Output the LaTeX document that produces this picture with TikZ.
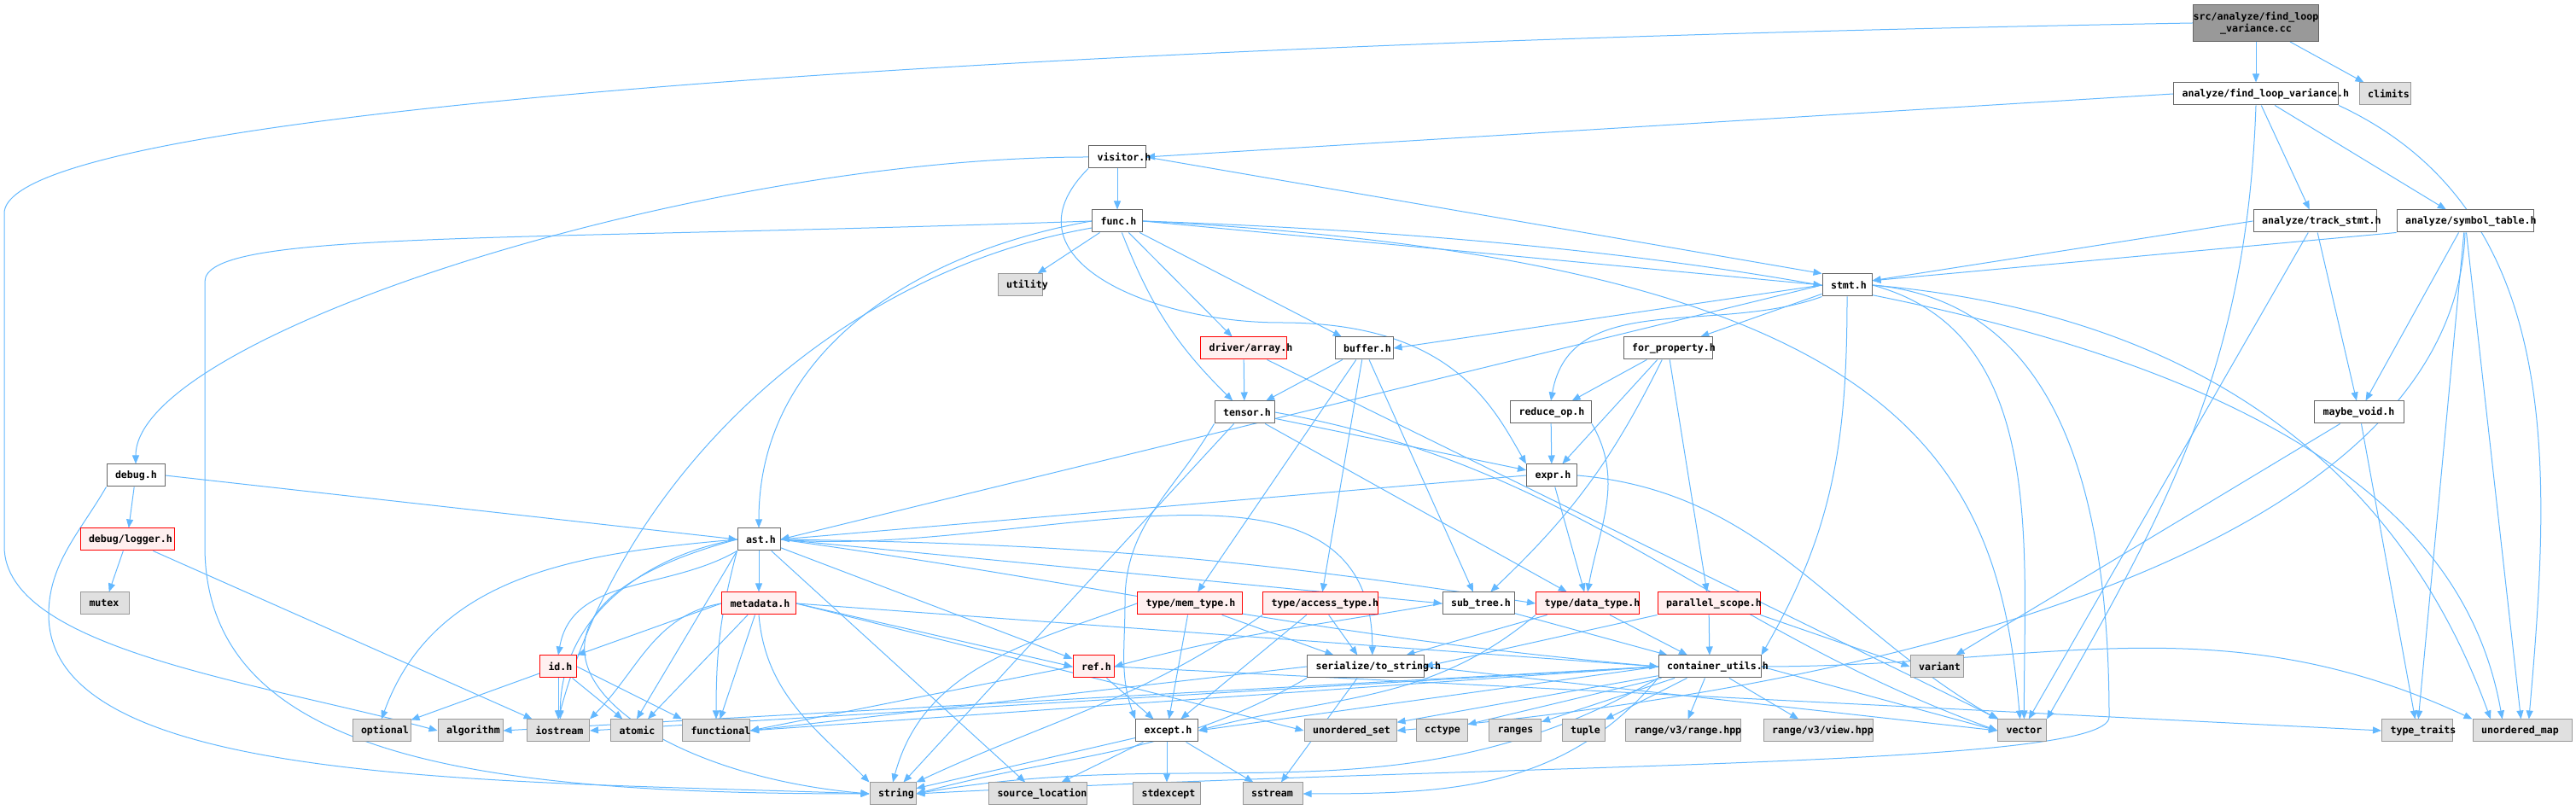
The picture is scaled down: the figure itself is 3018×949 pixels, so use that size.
\documentclass[tikz,border=0pt]{standalone}
\usepackage{fontspec}
\setmonofont{DejaVu Sans Mono}
\usetikzlibrary{arrows.meta}
\definecolor{incblue}{HTML}{63B8FF}
\pgfdeclarelayer{bg}
\pgfsetlayers{bg,main}
% text trai, co the tran ra ngoai hop nhu ban goc
\newcommand\fn[2]{\makebox[\dimexpr(#1pt-20pt)/4\relax][l]{#2}}
\tikzset{
  file/.style={draw=black!60,fill=white,line width=0.25pt,minimum height=6.5pt,inner xsep=2.5pt,inner ysep=0pt,
    font=\ttfamily\bfseries\fontsize{2.9pt}{3.4pt}\selectfont},
  sys/.style={file,draw=black!40,fill=black!12},
  trunc/.style={file,draw=red,fill=red!6},
  rootfile/.style={file,fill=black!40,minimum height=10.75pt,minimum width=36.75pt,align=center},
  inc/.style={draw=incblue,line width=0.25pt,-{Triangle[length=2.5pt,width=2pt]}},
}
\begin{document}
\begin{tikzpicture}[x=0.25pt,y=0.25pt]
\useasboundingbox (0,0) rectangle (3018,-949);
% cac tep
\node[rootfile] (root) at (2643,-27) {\makebox[0pt]{src/analyze/find\_loop}\\\makebox[0pt]{\_variance.cc}};
\node[file] (flvh) at (2643,-110) {\fn{193}{analyze/find\_loop\_variance.h}};
\node[sys] (climits) at (2794,-110) {\fn{60}{climits}};
\node[file] (visitor) at (1309,-184) {\fn{67}{visitor.h}};
\node[file] (func) at (1309,-259) {\fn{59}{func.h}};
\node[file] (track) at (2712,-259) {\fn{144}{analyze/track\_stmt.h}};
\node[file] (symtab) at (2888,-259) {\fn{160}{analyze/symbol\_table.h}};
\node[sys] (utility) at (1195,-334) {\fn{52}{utility}};
\node[file] (stmt) at (2164,-334) {\fn{58}{stmt.h}};
\node[trunc] (array) at (1457,-408) {\fn{101}{driver/array.h}};
\node[file] (buffer) at (1598,-408) {\fn{68}{buffer.h}};
\node[file] (forprop) at (1954,-408) {\fn{104}{for\_property.h}};
\node[file] (tensor) at (1458,-483) {\fn{70}{tensor.h}};
\node[file] (reduceop) at (1817,-483) {\fn{95}{reduce\_op.h}};
\node[file] (maybevoid) at (2764,-483) {\fn{105}{maybe\_void.h}};
\node[file] (debug) at (159,-557) {\fn{68}{debug.h}};
\node[file] (expr) at (1818,-557) {\fn{59}{expr.h}};
\node[trunc] (logger) at (149,-632) {\fn{110}{debug/logger.h}};
\node[file] (ast) at (889,-632) {\fn{50}{ast.h}};
\node[sys] (mutex) at (123,-707) {\fn{57}{mutex}};
\node[trunc] (metadata) at (889,-707) {\fn{87}{metadata.h}};
\node[trunc] (memtype) at (1394,-707) {\fn{123}{type/mem\_type.h}};
\node[trunc] (accesstype) at (1547,-707) {\fn{135}{type/access\_type.h}};
\node[file] (subtree) at (1732,-707) {\fn{84}{sub\_tree.h}};
\node[trunc] (datatype) at (1860,-707) {\fn{121}{type/data\_type.h}};
\node[trunc] (parscope) at (2002,-707) {\fn{120}{parallel\_scope.h}};
\node[trunc] (idh) at (654,-781) {\fn{43}{id.h}};
\node[trunc] (refh) at (1281,-781) {\fn{48}{ref.h}};
\node[file] (tostring) at (1600,-781) {\fn{137}{serialize/to\_string.h}};
\node[file] (container) at (2003,-781) {\fn{120}{container\_utils.h}};
\node[sys] (variant) at (2269,-781) {\fn{62}{variant}};
\node[sys] (optional) at (447,-856) {\fn{68}{optional}};
\node[sys] (algorithm) at (551,-856) {\fn{76}{algorithm}};
\node[sys] (iostream) at (654,-856) {\fn{73}{iostream}};
\node[sys] (atomic) at (746,-856) {\fn{61}{atomic}};
\node[sys] (functional) at (839,-856) {\fn{79}{functional}};
\node[file] (except) at (1367,-856) {\fn{73}{except.h}};
\node[sys] (unordset) at (1582,-856) {\fn{108}{unordered\_set}};
\node[sys] (cctype) at (1689,-856) {\fn{60}{cctype}};
\node[sys] (ranges) at (1775,-856) {\fn{61}{ranges}};
\node[sys] (tuple) at (1855,-856) {\fn{50}{tuple}};
\node[sys] (rangehpp) at (1972,-856) {\fn{135}{range/v3/range.hpp}};
\node[sys] (viewhpp) at (2130,-856) {\fn{128}{range/v3/view.hpp}};
\node[sys] (vector) at (2369,-856) {\fn{57}{vector}};
\node[sys] (typetraits) at (2832,-856) {\fn{83}{type\_traits}};
\node[sys] (unordmap) at (2955,-856) {\fn{116}{unordered\_map}};
\node[sys] (string) at (1046,-930) {\fn{54}{string}};
\node[sys] (srcloc) at (1216,-930) {\fn{115}{source\_location}};
\node[sys] (stdexcept) at (1367,-930) {\fn{79}{stdexcept}};
\node[sys] (sstream) at (1491,-930) {\fn{70}{sstream}};
% diem uon cua cac canh dai
\coordinate (la1) at (5,-250);
\coordinate (la2) at (5,-640);
\coordinate (lf1) at (240,-330);
\coordinate (lf2) at (240,-640);
\coordinate (ld1) at (57,-720);
\coordinate (vx1) at (1500,-378);
\coordinate (ls1) at (2471,-840);
\coordinate (tw1) at (1318,-705);
\begin{pgfonlayer}{bg}
\draw[inc] (root) -- (flvh);
\draw[inc] (root) -- (climits);
\draw[inc] (root.west) to[out=181,in=90,out distance=350pt,in distance=30pt] (la1) -- (la2)
  to[out=-90,in=165,out distance=30pt,in distance=55pt] (algorithm.west);
\draw[inc] (flvh.west) -- (visitor.east);
\draw[inc] (flvh) -- (track);
\draw[inc] (flvh) -- (symtab);
\draw[inc] (flvh.south) to[out=-92,in=60] (vector.north east);
\draw[inc] (flvh.south east) to[out=-25,in=85] (unordmap.60);
\draw[inc] (visitor.west) to[out=180,in=90,in distance=37.5pt] (debug.north);
\draw[inc] (visitor) -- (func);
\draw[inc] (visitor.south west) to[out=-135,in=180,out distance=37.5pt,in distance=37.5pt] (vx1)
  to[out=0,in=120,out distance=50pt,in distance=20pt] (expr.north west);
\draw[inc] (visitor.east) -- (stmt.north west);
\draw[inc] (track.west) -- (stmt.10);
\draw[inc] (track) -- (maybevoid);
\draw[inc] (track) -- (vector);
\draw[inc] (symtab.south west) -- (stmt.10);
\draw[inc] (symtab) -- (maybevoid);
\draw[inc] (symtab.south) to[out=-92,in=5,out distance=87.5pt,in distance=162.5pt] (unordset.east);
\draw[inc] (symtab) -- (typetraits);
\draw[inc] (symtab) -- (unordmap);
\draw[inc] (maybevoid) -- (variant);
\draw[inc] (maybevoid) -- (typetraits);
\draw[inc] (func) -- (utility);
\draw[inc] (func) -- (array);
\draw[inc] (func) to[bend right=12] (tensor);
\draw[inc] (func) -- (buffer);
\draw[inc] (func.east) -- (stmt.west);
\draw[inc] (func.west) to[out=190,in=90] (ast.north);
\draw[inc] (func.195) to[out=190,in=75,out distance=75pt,in distance=75pt] (iostream.north);
\draw[inc] (func.west) to[out=182,in=90,out distance=175pt,in distance=15pt] (lf1) -- (lf2)
  to[out=-90,in=180,out distance=62.5pt,in distance=112.5pt] (string.west);
\draw[inc] (func.east) to[out=-3,in=95,out distance=225pt,in distance=75pt] (vector.100);
\draw[inc] (func.east) to[out=-2,in=100,out distance=300pt,in distance=75pt] (unordmap.150);
\draw[inc] (debug) -- (logger);
\draw[inc] (debug.east) -- (ast.west);
\draw[inc] (debug.south west) to[out=-120,in=90,out distance=15pt,in distance=15pt] (ld1)
  to[out=-90,in=178,out distance=50pt,in distance=112.5pt] (string.west);
\draw[inc] (logger) -- (mutex);
\draw[inc] (logger) -- (iostream);
\draw[inc] (stmt.west) -- (ast.east);
\draw[inc] (stmt.west) -- (buffer.east);
\draw[inc] (stmt) -- (forprop);
\draw[inc] (stmt.south west) to[out=200,in=80] (reduceop.north);
\draw[inc] (stmt.south) to[out=-90,in=60] (container.north east);
\draw[inc] (stmt.east) to[out=-5,in=90,out distance=50pt,in distance=75pt] (ls1)
  to[out=-90,in=3,out distance=15pt,in distance=175pt] (string.east);
\draw[inc] (stmt.east) to[out=-15,in=90] (vector.80);
\draw[inc] (stmt.east) to[out=-5,in=110] (unordmap.160);
\draw[inc] (array) -- (tensor);
\draw[inc] (array) -- (vector);
\draw[inc] (buffer) -- (tensor);
\draw[inc] (buffer) -- (memtype);
\draw[inc] (buffer) -- (accesstype);
\draw[inc] (buffer) -- (subtree);
\draw[inc] (tensor) -- (expr);
\draw[inc] (tensor) -- (datatype);
\draw[inc] (tensor) -- (string);
\draw[inc] (tensor.south west) to[out=-120,in=90] (tw1) to[out=-90,in=110] (except.north west);
\draw[inc] (tensor.east) to[out=-10,in=160] (vector.west);
\draw[inc] (forprop) -- (reduceop);
\draw[inc] (forprop) -- (expr);
\draw[inc] (forprop) to[bend left=10] (subtree);
\draw[inc] (forprop) -- (parscope);
\draw[inc] (reduceop) -- (expr);
\draw[inc] (reduceop.south east) to[out=-60,in=80] (datatype.north);
\draw[inc] (expr.west) -- (ast.east);
\draw[inc] (expr) -- (datatype);
\draw[inc] (expr.east) to[out=-5,in=150] (vector.north west);
\draw[inc] (ast) -- (metadata);
\draw[inc] (ast.south west) to[out=-150,in=80] (idh.north);
\draw[inc] (ast) -- (refh);
\draw[inc] (ast.west) to[out=185,in=70] (optional.north);
\draw[inc] (ast.west) to[out=190,in=90] (iostream.80);
\draw[inc] (ast.south west) -- (atomic.north);
\draw[inc] (ast.south west) to[out=-105,in=90] (functional.north);
\draw[inc] (ast.west) to[out=195,in=175,out distance=87.5pt,in distance=75pt] (string.west);
\draw[inc] (ast) -- (srcloc);
\draw[inc] (ast.east) -- (subtree.west);
\draw[inc] (ast.east) to[bend left=4] (datatype.west);
\draw[inc] (ast.east) to[out=-5,in=90] (tostring.60);
\draw[inc] (ast.east) to[out=-8,in=175] (container.west);
\draw[inc] (metadata.west) -- (idh.north east);
\draw[inc] (metadata.east) -- (refh.west);
\draw[inc] (metadata) -- (atomic);
\draw[inc] (metadata) -- (functional);
\draw[inc] (metadata.south) to[out=-85,in=135] (string.north west);
\draw[inc] (metadata.west) to[out=190,in=45] (iostream.north east);
\draw[inc] (metadata.east) -- (container.west);
\draw[inc] (metadata.east) -- (unordset.west);
\draw[inc] (idh) -- (optional);
\draw[inc] (idh) -- (iostream);
\draw[inc] (idh) -- (atomic);
\draw[inc] (idh.east) -- (functional.north west);
\draw[inc] (refh) -- (except);
\draw[inc] (refh.west) -- (functional.east);
\draw[inc] (refh.east) -- (typetraits.west);
\draw[inc] (except) -- (string);
\draw[inc] (except) -- (srcloc);
\draw[inc] (except) -- (stdexcept);
\draw[inc] (except) -- (sstream);
\draw[inc] (memtype) -- (except);
\draw[inc] (memtype.west) to[out=200,in=75] (string.north);
\draw[inc] (memtype) -- (tostring);
\draw[inc] (accesstype) -- (tostring);
\draw[inc] (accesstype) -- (except);
\draw[inc] (accesstype.south west) to[out=-145,in=25] (string.north east);
\draw[inc] (subtree.west) to[out=190,in=15] (refh.east);
\draw[inc] (subtree) -- (container);
\draw[inc] (datatype) -- (container);
\draw[inc] (datatype) -- (tostring);
\draw[inc] (datatype.south west) to[out=-140,in=15] (except.east);
\draw[inc] (parscope) -- (container);
\draw[inc] (parscope.south west) -- (tostring.east);
\draw[inc] (parscope.south east) -- (variant.west);
\draw[inc] (tostring) -- (sstream);
\draw[inc] (tostring.south west) to[out=-150,in=15] (string.east);
\draw[inc] (tostring.west) -- (functional.east);
\draw[inc] (tostring.east) -- (vector.west);
\draw[inc] (container) -- (unordset);
\draw[inc] (container) -- (cctype);
\draw[inc] (container) -- (ranges);
\draw[inc] (container) -- (tuple);
\draw[inc] (container) -- (rangehpp);
\draw[inc] (container) -- (viewhpp);
\draw[inc] (container.east) -- (vector.west);
\draw[inc] (container.east) to[out=0,in=155] (unordmap.north west);
\draw[inc] (container.west) -- (algorithm.east);
\draw[inc] (container.west) -- (iostream.east);
\draw[inc] (container.west) -- (functional.east);
\draw[inc] (container.west) -- (except.east);
\draw[inc] (container.south west) to[out=-150,in=10] (string.east);
\draw[inc] (container.south west) to[out=-130,in=0] (sstream.east);
\end{pgfonlayer}
\end{tikzpicture}
\end{document}
